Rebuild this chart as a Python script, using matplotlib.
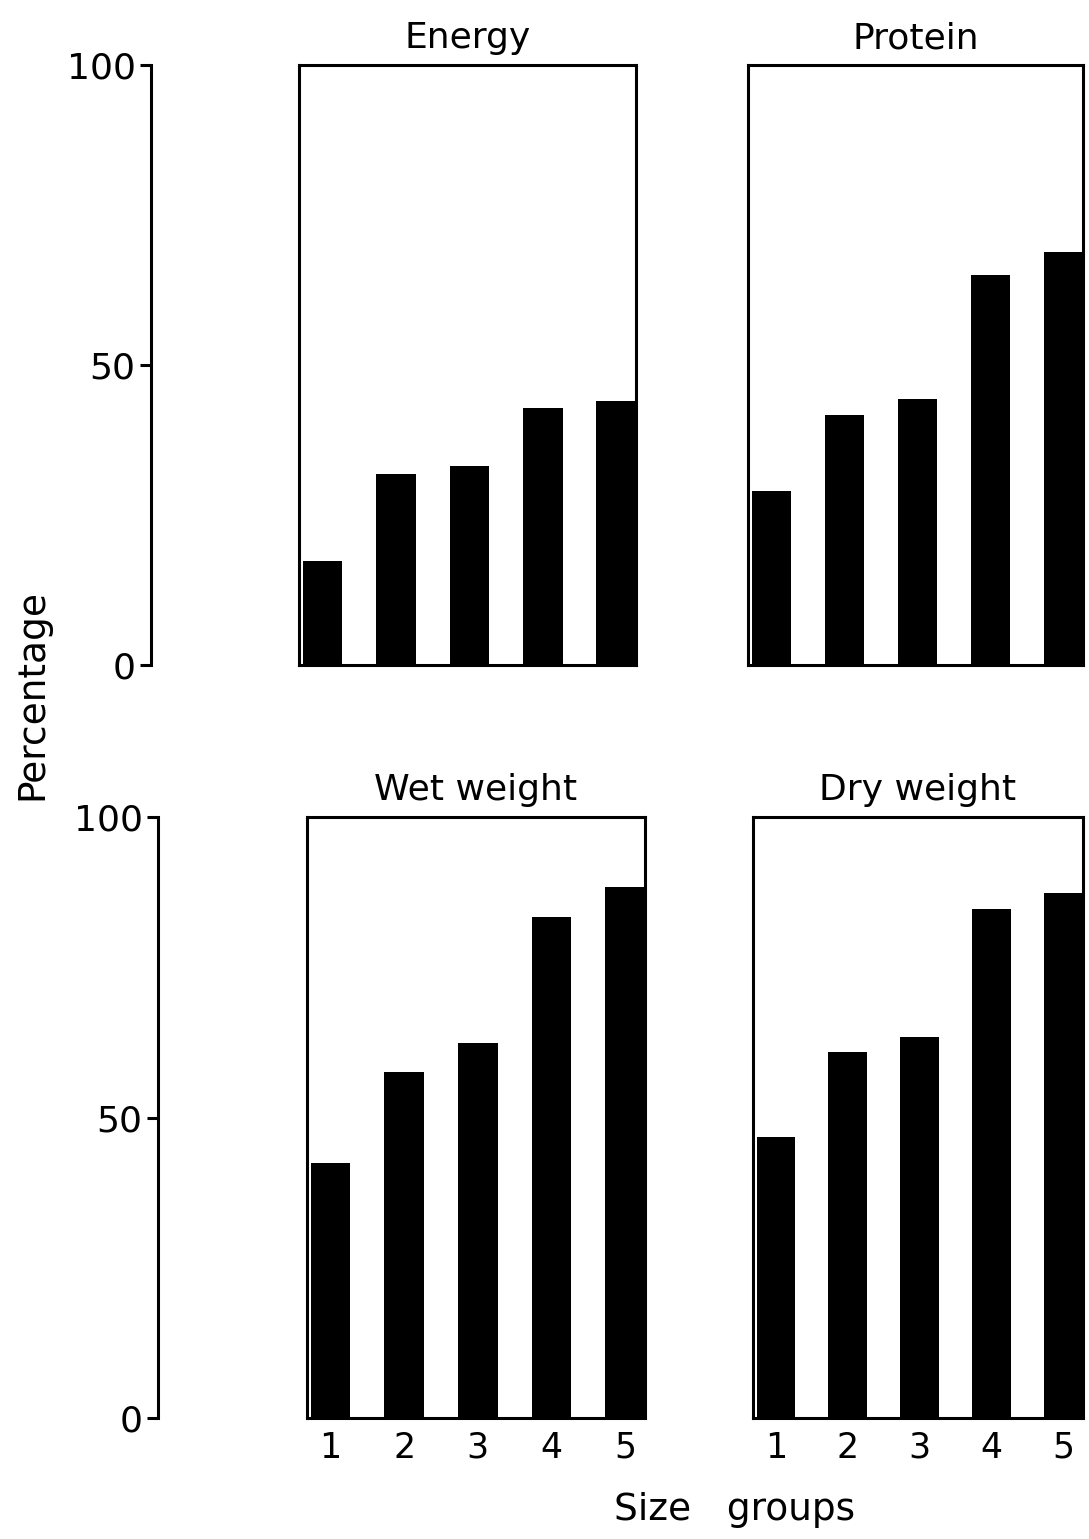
import matplotlib
matplotlib.use('Agg')
import matplotlib.pyplot as plt
import numpy as np

# size groups and percentages
groups = [1, 2, 3, 4, 5]
group_labels = ['1', '2', '3', '4', '5']
energy = [17.3, 31.8, 33.2, 42.8, 44.0]
protein = [29.0, 41.7, 44.3, 65.0, 68.8]
wet_weight = [42.4, 57.6, 62.4, 83.4, 88.4]
dry_weight = [46.8, 60.9, 63.4, 84.7, 87.4]

titles = ['Energy', 'Protein', 'Wet weight', 'Dry weight']
series = [energy, protein, wet_weight, dry_weight]
y_ticks = [0, 50, 100]

plt.rcParams['font.family'] = ['DejaVu Sans']
W, H = 1089, 1539
fig = plt.figure(figsize=(W / 100, H / 100), dpi=100)

def box(x0, x1, y0, y1):
    # pixel box -> figure fraction rect
    return [x0 / W, 1 - y1 / H, (x1 - x0) / W, (y1 - y0) / H]

panel_boxes = [box(299, 636, 65, 665), box(748, 1083, 65, 665),
               box(307, 645, 817, 1418), box(753, 1083, 817, 1418)]

for i, (rect, vals, title) in enumerate(zip(panel_boxes, series, titles)):
    ax = fig.add_axes(rect)
    ax.bar(groups, vals, width=0.54, color='black')
    ax.set_xlim(0.68, 5.27)
    ax.set_ylim(0, 100)
    ax.set_yticks([])
    for s in ax.spines.values():
        s.set_linewidth(2.2)
    ax.set_title(title, fontsize=26, pad=12)
    if i >= 2:
        ax.set_xticks(groups)
        ax.set_xticklabels(group_labels, fontsize=25)
        ax.tick_params(axis='x', length=0, pad=9)
    else:
        ax.set_xticks([])

# separate percentage axes on the left
for x_px, y0, y1 in [(151, 65, 665), (158, 817, 1418)]:
    axl = fig.add_axes(box(x_px, x_px + 1, y0, y1))
    axl.set_ylim(0, 100)
    axl.set_yticks(y_ticks)
    axl.set_yticklabels([str(t) for t in y_ticks], fontsize=26)
    axl.set_xticks([])
    axl.tick_params(axis='y', direction='out', length=8, width=2.2, pad=3)
    for side in ['top', 'right', 'bottom']:
        axl.spines[side].set_visible(False)
    axl.spines['left'].set_linewidth(2.2)
    axl.patch.set_visible(False)

fig.text(32 / W, 1 - 695 / H, 'Percentage', rotation=90, fontsize=27,
         ha='center', va='center')
fig.text(735 / W, 1 - 1510 / H, 'Size   groups', fontsize=27,
         ha='center', va='center')

fig.savefig('out.png', dpi=100)
